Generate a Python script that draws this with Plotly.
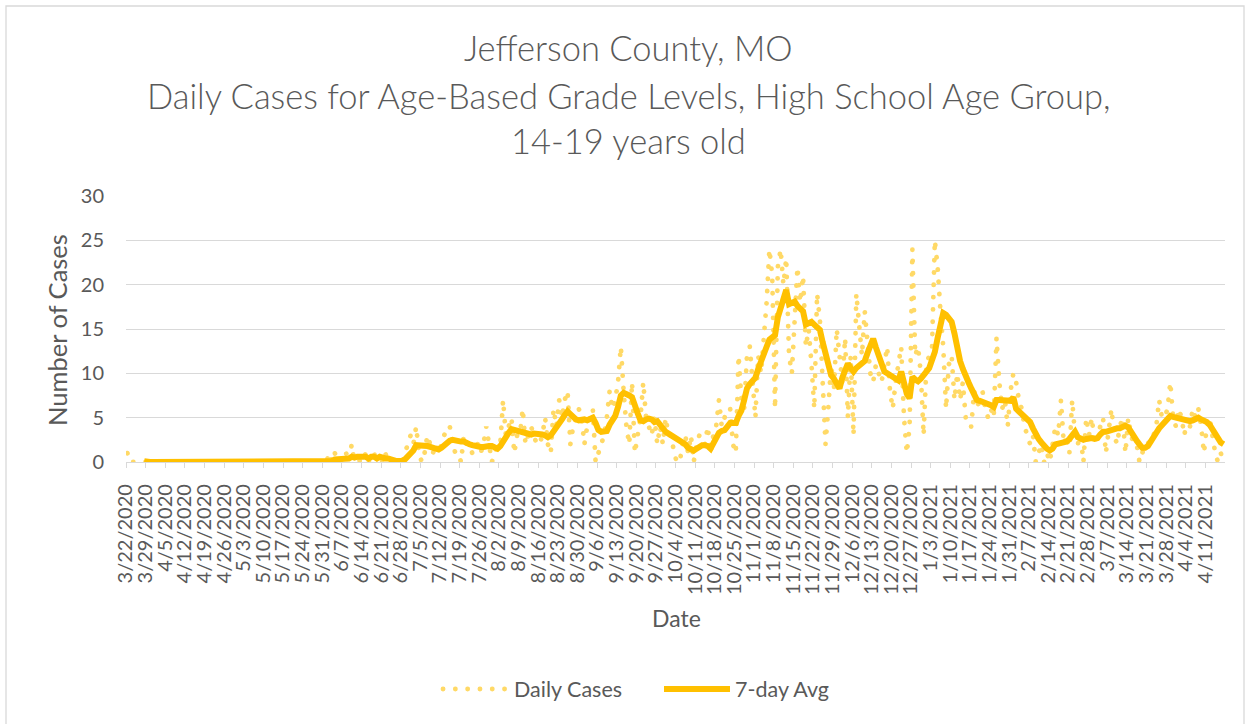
import pandas as pd
import plotly.graph_objects as go

# ---- data ----
start_date = "2020-03-22 12:00"   # daily points, centred in each day slot
tick_start = "2020-03-22"
tick_end = "2021-04-11"

daily_cases = [
    1, 0, 0, 0, 0, 0, 0,   # 3/22
    0, 0, 0, 0, 0, 0, 0,   # 3/29
    0, 0, 0, 0, 0, 0, 0,   # 4/5
    0, 0, 0, 0, 0, 0, 0,   # 4/12
    0, 0, 0, 0, 0, 0, 0,   # 4/19
    0, 0, 0, 0, 0, 0, 0,   # 4/26
    0, 0, 0, 0, 0, 0, 0,   # 5/3
    0, 0, 0, 0, 0, 0, 0,   # 5/10
    0, 0, 0, 0, 0, 0, 0,   # 5/17
    0, 0, 0, 0, 0, 0, 0,   # 5/24
    0, 0, 1, 0, 1, 0, 0,   # 5/31
    0, 1, 0, 2, 0, 1, 0,   # 6/7
    0, 1, 0, 1, 1, 0, 1,   # 6/14
    0, 1, 0, 0, 0, 0, 0,   # 6/21
    0, 1, 2, 3, 2, 4, 1,   # 6/28
    0, 1, 3, 2, 1, 2, 1,   # 7/5
    2, 3, 4, 4, 2, 1, 1,   # 7/12
    0, 3, 2, 2, 1, 2, 2,   # 7/19
    1, 2, 4, 2, 0, 1, 2,   # 7/26
    2, 7, 3, 4, 5, 1, 3,   # 8/2
    3, 6, 2, 3, 4, 3, 2,   # 8/9
    2, 3, 5, 2, 1, 6, 4,   # 8/16
    7, 5, 7, 8, 2, 4, 5,   # 8/23
    6, 5, 2, 4, 5, 6, 0,   # 8/30
    1, 2, 3, 5, 8, 6, 7,   # 9/6
    9, 13, 8, 4, 2, 9, 1,  # 9/13
    3, 5, 9, 5, 4, 3, 5,   # 9/20
    2, 4, 2, 5, 3, 3, 1,   # 9/27
    0, 0, 2, 3, 1, 3, 0,   # 10/4
    2, 3, 3, 2, 4, 1, 3,   # 10/11
    4, 7, 4, 5, 6, 6, 2,   # 10/18
    1, 12, 7, 6, 12, 13, 9,    # 10/25
    5, 12, 10, 14, 18, 24, 21,  # 11/1
    6, 22, 24, 20, 23, 12, 10,  # 11/8
    16, 22, 18, 21, 13, 15, 11, # 11/15
    6, 19, 16, 9, 2, 6, 11,     # 11/22
    8, 15, 12, 9, 14, 5, 12,    # 11/29
    3, 19, 15, 12, 17, 14, 10,  # 12/6
    9, 11, 10, 9, 11, 13, 8,    # 12/13
    6, 9, 11, 13, 5, 1, 4,      # 12/20
    24, 12, 13, 10, 3, 11, 12,  # 12/27
    13, 25, 22, 17, 13, 6, 11,  # 1/3
    12, 7, 10, 7, 9, 5, 4,      # 1/10
    4, 8, 7, 6, 8, 6, 5,        # 1/17
    6, 5, 14, 9, 6, 7, 4,       # 1/24
    8, 10, 9, 7, 6, 4, 3,       # 1/31
    2, 3, 0, 1, 2, 0, 1,        # 2/7
    0, 2, 4, 3, 7, 2, 3,        # 2/14
    1, 7, 3, 2, 3, 0, 5,        # 2/21
    3, 5, 2, 3, 4, 5, 1,        # 2/28
    4, 6, 3, 2, 4, 5, 1,        # 3/7
    5, 3, 2, 2, 0, 1, 2,        # 3/14
    2, 3, 3, 4, 7, 5, 5,        # 3/21
    6, 9, 5, 4, 6, 5, 3,        # 3/28
    5, 4, 6, 5, 6, 4, 1,        # 4/4
    4, 5, 3, 1, 0, 1, 0,        # 4/11
]

seven_day_avg = [
    None, None, None, None, None, None, 0.1,   # 3/22
    0, 0, 0, 0, 0, 0, 0,
    0, 0, 0, 0, 0, 0, 0,
    0, 0, 0, 0, 0, 0, 0,
    0, 0, 0, 0, 0, 0, 0,
    0, 0, 0, 0, 0, 0, 0,
    0, 0, 0, 0, 0, 0, 0,
    0, 0, 0, 0, 0, 0, 0,
    0, 0, 0, 0, 0, 0, 0,
    0, 0, 0, 0, 0, 0, 0,
    0, 0, 0.1, 0.1, 0.3, 0.3, 0.3,        # 5/31
    0.3, 0.4, 0.4, 0.6, 0.5, 0.6, 0.6,    # 6/7
    0.6, 0.6, 0.4, 0.6, 0.6, 0.4, 0.6,    # 6/14
    0.4, 0.4, 0.4, 0.3, 0.1, 0.1, 0.1,    # 6/21
    0.1, 0.3, 0.6, 1.0, 1.3, 1.9, 1.9,    # 6/28
    1.9, 1.9, 1.8, 1.7, 1.6, 1.5, 1.4,    # 7/5
    1.6, 1.9, 2.2, 2.4, 2.5, 2.4, 2.4,    # 7/12
    2.3, 2.3, 2.1, 2.0, 1.9, 1.8, 1.7,    # 7/19
    1.7, 1.7, 1.8, 1.8, 1.8, 1.6, 1.5,    # 7/26
    1.8, 2.4, 2.9, 3.3, 3.7, 3.6, 3.5,    # 8/2
    3.4, 3.4, 3.2, 3.1, 3.1, 3.2, 3.2,    # 8/9
    3.2, 3.1, 3.0, 2.8, 3.0, 3.4, 3.9,    # 8/16
    4.3, 4.8, 5.3, 5.7, 5.4, 5.0, 4.8,    # 8/23
    4.7, 4.8, 4.8, 4.7, 4.8, 5.0, 4.4,    # 8/30
    3.6, 3.4, 3.4, 3.5, 4.2, 4.7, 5.2,    # 9/6
    6.2, 7.5, 7.8, 7.7, 7.5, 7.3, 6.2,    # 9/13
    5.5, 4.7, 4.6, 4.8, 4.9, 4.8, 4.5,    # 9/20
    4.6, 4.2, 3.6, 3.4, 3.2, 3.0, 2.8,    # 9/27
    2.5, 2.4, 2.2, 2.0, 1.6, 1.4, 1.3,    # 10/4
    1.5, 1.8, 1.9, 1.9, 1.8, 1.5, 2.2,    # 10/11
    3.0, 3.3, 3.5, 3.6, 4.0, 4.4, 4.4,    # 10/18
    4.4, 5.2, 5.8, 7.0, 8.3, 8.8, 9.2,    # 10/25
    9.5, 10.5, 11.2, 12.2, 13.0, 13.8, 14.0,   # 11/1
    14.3, 16.3, 17.3, 18.8, 19.4, 17.8, 17.9,  # 11/8
    18.1, 17.6, 17.3, 17.0, 15.5, 15.7, 15.8,  # 11/15
    15.5, 15.2, 14.9, 13.5, 12.0, 10.5, 9.8,   # 11/22
    9.4, 8.9, 8.3, 9.5, 10.4, 11.1, 10.6,      # 11/29
    10.2, 10.6, 10.9, 11.0, 11.4, 12.3, 13.0,  # 12/6
    13.9, 12.9, 12.0, 10.8, 10.2, 10.0, 9.8,   # 12/13
    9.6, 9.4, 9.2, 10.2, 9.0, 7.7, 7.2,        # 12/20
    9.6, 9.3, 9.1, 9.4, 9.7, 10.2, 10.6,       # 12/27
    11.3, 12.4, 14.0, 15.3, 16.8, 16.6, 16.2,  # 1/3
    15.8, 14.5, 12.8, 11.4, 10.5, 9.9, 9.0,    # 1/10
    8.3, 7.6, 7.0, 6.9, 6.8, 6.7, 6.5,         # 1/17
    6.4, 6.2, 7.0, 7.0, 7.0, 7.0, 6.9,         # 1/24
    6.9, 7.3, 6.0, 5.7, 5.4, 5.3, 4.9,         # 1/31
    4.5, 3.8, 3.1, 2.6, 2.2, 1.8, 1.5,         # 2/7
    1.3, 1.5, 2.0, 2.1, 2.2, 2.2, 2.3,         # 2/14
    2.6, 3.1, 3.4, 2.8, 2.6, 2.5, 2.6,         # 2/21
    2.7, 2.7, 2.6, 2.7, 3.1, 3.4, 3.4,         # 2/28
    3.5, 3.6, 3.8, 3.8, 3.8, 3.9, 4.1,         # 3/7
    3.9, 3.3, 2.9, 2.4, 2.0, 1.6, 1.6,         # 3/14
    1.8, 2.3, 2.7, 3.3, 3.8, 4.1, 4.4,         # 3/21
    4.8, 5.2, 5.1, 5.0, 4.9, 4.8, 4.7,         # 3/28
    4.6, 4.6, 4.7, 4.9, 5.0, 4.8, 4.7,         # 4/4
    4.5, 4.2, 3.7, 3.1, 2.5, 2.2, 2.0,         # 4/11
]

y_ticks = [0, 5, 10, 15, 20, 25, 30]
title_lines = [
    "Jefferson County, MO",
    "Daily Cases for Age-Based Grade Levels, High School Age Group,",
    "14-19 years old",
]

# ---- figure ----
dates = pd.date_range(start_date, periods=len(daily_cases), freq="D")
tick_dates = pd.date_range(tick_start, tick_end, freq="7D")

TEXT = "#595959"
GRID = "#D9D9D9"
FONT = "Lato, 'Open Sans', sans-serif"

W, H = 1252, 724
L, R, T, B = 126, 27, 196, 262
pw, ph = W - L - R, H - T - B


def px_x(x):
    return (x - L) / pw


def px_y(y):
    return (H - B - y) / ph


fig = go.Figure()
fig.add_trace(go.Scatter(
    x=dates, y=daily_cases, mode="lines", name="Daily Cases",
    line=dict(color="#FFD966", width=4.8, dash="0.1px,12.2px"),
))
fig.add_trace(go.Scatter(
    x=dates, y=seven_day_avg, mode="lines", name="7-day Avg",
    line=dict(color="#FFC000", width=6), connectgaps=False,
))

fig.update_layout(
    width=W, height=H,
    margin=dict(l=L, r=R, t=T, b=B, autoexpand=False),
    paper_bgcolor="white", plot_bgcolor="white",
    font=dict(family=FONT, color=TEXT, size=20),
    showlegend=True,
    legend=dict(
        orientation="h", xref="paper", yref="paper",
        x=px_x(438), y=px_y(689), xanchor="left", yanchor="middle",
        font=dict(size=21.5, color=TEXT), itemwidth=66,
        entrywidth=140, entrywidthmode="pixels",
        bgcolor="rgba(0,0,0,0)",
    ),
)

fig.update_xaxes(
    type="date",
    range=[tick_start, "2021-04-18"],
    tickmode="array", tickvals=tick_dates,
    ticktext=[f"{d.month}/{d.day}/{d.year}" for d in tick_dates],
    tickangle=-90, ticks="outside", ticklen=5, tickcolor=GRID, tickwidth=1,
    ticklabelstandoff=8,
    tickfont=dict(size=20, color=TEXT, family=FONT),
    showline=True, linecolor=GRID, linewidth=1.3,
    showgrid=False, zeroline=False, automargin=False,
)
fig.update_yaxes(
    range=[0, 30], tickmode="array", tickvals=y_ticks,
    showgrid=True, gridcolor=GRID, gridwidth=1.3,
    zeroline=False, showline=False, ticks="",
    ticklabelstandoff=21,
    tickfont=dict(size=20, color=TEXT, family=FONT),
    automargin=False,
)

# outer chart border
fig.add_shape(type="rect", xref="paper", yref="paper",
              x0=px_x(6), x1=px_x(1244), y0=px_y(740), y1=px_y(6),
              line=dict(color=GRID, width=1.3), fillcolor="rgba(0,0,0,0)",
              layer="below")

# titles
title_y = [47, 95, 140]
for line, yy in zip(title_lines, title_y):
    fig.add_annotation(text=line, xref="paper", yref="paper",
                       x=px_x(628), y=px_y(yy), xanchor="center", yanchor="middle",
                       showarrow=False,
                       font=dict(size=34.5, color=TEXT, family=FONT, weight=300))

fig.add_annotation(text="Number of Cases", xref="paper", yref="paper",
                   x=px_x(57), y=px_y(330), xanchor="center", yanchor="middle",
                   textangle=-90, showarrow=False,
                   font=dict(size=25.5, color=TEXT, family=FONT))
fig.add_annotation(text="Date", xref="paper", yref="paper",
                   x=px_x(676), y=px_y(618), xanchor="center", yanchor="middle",
                   showarrow=False,
                   font=dict(size=23, color=TEXT, family=FONT))

# page without body margin; round dots for the dotted series
post = """
document.body.style.margin = '0';
var gd = document.getElementById('{plot_id}');
function roundDots() {
  var tr = gd.querySelectorAll('.scatterlayer .trace');
  if (tr.length) tr[0].querySelectorAll('path.js-line').forEach(function(p){ p.style.strokeLinecap = 'round'; });
  var lg = gd.querySelectorAll('.legend .traces');
  if (lg.length) lg[0].querySelectorAll('path').forEach(function(p){ p.style.strokeLinecap = 'round'; });
}
roundDots();
gd.on('plotly_afterplot', roundDots);
"""
fig.write_html("out.html", post_script=post, config={"displayModeBar": False})
